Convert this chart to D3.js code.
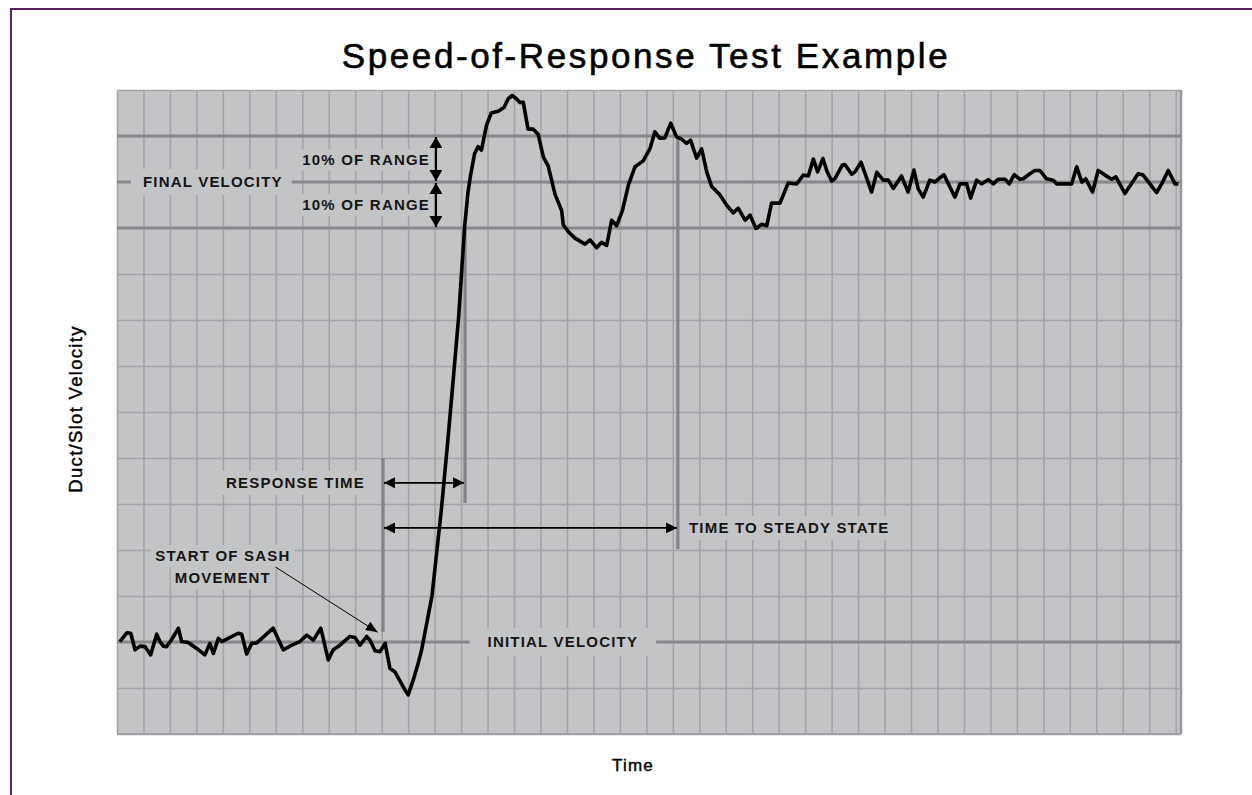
<!DOCTYPE html>
<html>
<head>
<meta charset="utf-8">
<script src="https://cdn.jsdelivr.net/npm/d3@7"></script>
<style>
  html, body { margin: 0; padding: 0; background: #ffffff; }
  svg { display: block; }
</style>
</head>
<body>
<svg id="chart" width="1252" height="795"></svg>
<script>
// ---------------- data ----------------
// time in grid units, velocity in % of the range (initial = 0, final = 100)
const timeValues = [
  0.11,0.37,0.52,0.68,0.87,1.06,1.27,1.50,1.62,1.75,1.88,2.07,2.32,2.44,2.69,3.01,3.32,3.51,3.64,3.83,
  3.96,4.20,4.58,4.71,4.90,5.09,5.28,5.47,5.90,6.28,6.60,6.91,7.17,7.42,7.70,7.98,8.17,8.42,8.80,8.99,
  9.18,9.43,9.56,9.75,9.94,10.13,10.31,10.50,10.88,11.00,11.19,11.38,11.51,11.90,12.25,12.50,12.69,12.91,13.13,13.26,
  13.36,13.51,13.64,13.77,13.96,14.14,14.40,14.62,14.78,14.93,15.09,15.22,15.35,15.53,15.72,15.91,16.11,16.29,16.55,16.80,
  16.86,17.05,17.30,17.68,17.87,18.12,18.31,18.50,18.69,18.88,19.10,19.32,19.57,19.88,20.14,20.32,20.51,20.70,20.92,21.14,
  21.33,21.52,21.67,21.90,22.09,22.28,22.47,22.78,23.03,23.28,23.47,23.73,23.92,24.14,24.36,24.55,24.73,25.05,25.36,25.68,
  25.93,26.12,26.31,26.47,26.67,26.82,27.00,27.12,27.41,27.50,27.76,27.88,28.11,28.51,28.71,28.95,29.14,29.33,29.64,29.89,
  30.11,30.27,30.46,30.71,30.90,31.24,31.66,31.85,32.10,32.25,32.48,32.67,32.92,33.11,33.29,33.55,33.71,33.90,34.11,34.24,
  34.49,34.68,34.87,35.12,35.37,35.50,36.07,36.26,36.45,36.60,36.86,37.07,37.33,37.58,37.74,38.08,38.58,38.77,39.28,39.47,
  39.72,39.97,40.10
];
const velocityValues = [
  0.1,2.0,1.9,-1.7,-0.9,-1.0,-2.8,1.7,0.1,-0.9,-1.0,0.6,3.0,0.1,-0.1,-1.4,-2.8,-0.3,-2.5,0.8,
  0.1,0.8,1.9,1.7,-2.6,-0.3,-0.2,0.8,3.0,-1.7,-0.7,0.1,1.5,0.4,3.0,-3.9,-1.7,-0.7,1.2,1.0,
  -0.7,1.2,0.4,-1.9,-2.1,-0.3,-5.7,-6.5,-10.4,-11.5,-8.3,-4.6,-1.7,10.0,28.5,43.8,56.2,70.8,90.0,97.7,
  101.5,106.2,107.7,106.9,112.3,115.0,115.4,116.2,118.1,118.8,118.1,117.3,117.3,111.5,111.5,110.4,105.4,103.5,97.3,93.8,
  90.7,89.2,87.8,86.5,87.4,85.7,86.9,86.2,91.7,90.5,93.9,99.3,103.3,104.6,107.3,110.9,109.5,109.6,112.8,109.8,
  109.3,108.4,109.1,105.2,107.2,102.2,99.0,97.2,95.0,93.3,94.3,91.7,92.8,89.9,90.8,90.5,95.4,95.4,99.8,99.6,
  101.5,101.3,105.0,102.2,105.1,102.4,100.2,100.7,103.7,103.8,101.7,102.2,104.3,97.8,102.1,100.4,100.4,98.6,101.3,97.8,
  102.6,98.5,96.7,100.4,100.0,101.6,96.7,99.6,99.6,96.5,100.4,99.6,100.5,99.6,100.6,100.6,99.6,101.6,100.6,100.7,
  101.8,102.5,102.5,100.7,100.4,99.6,99.6,103.3,100.0,100.7,97.8,102.5,101.5,100.6,101.1,97.5,101.8,101.5,97.7,99.6,
  102.5,99.6,99.6
];
const gridTimeTicks = d3.range(0, 41, 1);
const gridVelocityTicks = d3.range(-20, 121, 10);
const titleText = "Speed-of-Response Test Example";
const xAxisLabel = "Time";
const yAxisLabel = "Duct/Slot Velocity";
const initialVelocity = 0;
const finalVelocity = 100;
const bandPercent = 10;
const sashStartTime = 10.05;
const responseEndTime = 13.15;
const steadyStateTime = 21.19;

// ---------------- layout ----------------
const svg = d3.select("#chart");
const plotLeft = 117, plotRight = 1181, plotTop = 90, plotBottom = 734;
const x = d3.scaleLinear().domain([0, 40.2]).range([plotLeft, plotRight]);
const y = d3.scaleLinear().domain([-20, 120]).range([plotBottom, plotTop]);

const bg = "#c3c4c6";
const gridColor = "#a3a4a7";
const refColor = "#87888b";
const labelFont = "'Liberation Sans', Arial, sans-serif";

// outer frame
svg.append("rect").attr("x", 11).attr("y", 9).attr("width", 1400).attr("height", 1000)
  .attr("fill", "none").attr("stroke", "#5b2160").attr("stroke-width", 2);

// title
svg.append("text").attr("x", 646).attr("y", 68).attr("text-anchor", "middle")
  .attr("font-family", labelFont).attr("font-size", 35).attr("letter-spacing", 2.6)
  .attr("stroke", "#000").attr("stroke-width", 0.6)
  .attr("fill", "#000").text(titleText);

// plot background
svg.append("rect").attr("x", plotLeft).attr("y", plotTop).attr("width", plotRight - plotLeft).attr("height", plotBottom - plotTop)
  .attr("fill", bg);

// grid via axes
const gx = svg.append("g").attr("transform", `translate(0,${plotBottom})`)
  .call(d3.axisBottom(x).tickValues(gridTimeTicks).tickSize(-(plotBottom - plotTop)).tickFormat(""));
gx.select(".domain").remove();
gx.selectAll(".tick line").attr("stroke", gridColor).attr("stroke-width", 1.6);

const gy = svg.append("g").attr("transform", `translate(${plotLeft},0)`)
  .call(d3.axisLeft(y).tickValues(gridVelocityTicks).tickSize(-(plotRight - plotLeft)).tickFormat(""));
gy.select(".domain").remove();
gy.selectAll(".tick line").attr("stroke", gridColor).attr("stroke-width", 1.6);

// plot edges
svg.append("line").attr("x1", plotRight).attr("x2", plotRight).attr("y1", plotTop).attr("y2", plotBottom)
  .attr("stroke", "#98999c").attr("stroke-width", 2.5);
svg.append("line").attr("x1", plotLeft).attr("x2", plotRight).attr("y1", plotBottom).attr("y2", plotBottom)
  .attr("stroke", "#a0a1a4").attr("stroke-width", 2);

// reference lines
[finalVelocity + bandPercent, finalVelocity, finalVelocity - bandPercent, initialVelocity].forEach(v => {
  svg.append("line").attr("x1", plotLeft).attr("x2", plotRight).attr("y1", y(v)).attr("y2", y(v))
    .attr("stroke", refColor).attr("stroke-width", 3);
});

// vertical annotation lines
const vlines = [
  {t: sashStartTime, v0: 2.2, v1: 40},
  {t: responseEndTime, v0: 30.2, v1: finalVelocity - bandPercent},
  {t: steadyStateTime, v0: 20.2, v1: finalVelocity + bandPercent}
];
vlines.forEach(d => {
  svg.append("line").attr("x1", x(d.t)).attr("x2", x(d.t)).attr("y1", y(d.v0)).attr("y2", y(d.v1))
    .attr("stroke", "#838487").attr("stroke-width", 3.2);
});

// labels with background boxes
function label(txt, px, py, anchor, padL, padR, padT, padB) {
  const g = svg.append("g");
  const r = g.append("rect").attr("fill", bg);
  const t = g.append("text").attr("x", px).attr("y", py + 5.4).attr("text-anchor", anchor)
    .attr("font-family", labelFont).attr("font-weight", "bold").attr("font-size", 15)
    .attr("letter-spacing", 1.2).attr("fill", "#151515").text(txt);
  const b = t.node().getBBox();
  r.attr("x", b.x - padL).attr("y", py - 12 - padT).attr("width", b.width + padL + padR)
    .attr("height", 24 + padT + padB);
  return g;
}
label("FINAL VELOCITY", x(0.98), y(finalVelocity), "start", 12, 9, 1, 1);
label("10% OF RANGE", x(7.0), y(104.8), "start", 3, 3, -1, -1);
label("10% OF RANGE", x(7.0), y(95.0), "start", 3, 3, -1, -1);
label("RESPONSE TIME", x(9.37), y(34.6), "end", 8, 8, 0, 0);
label("TIME TO STEADY STATE", x(21.61), y(24.8), "start", 5, 5, 0, 0);
label("INITIAL VELOCITY", x(14.0), y(initialVelocity), "start", 18, 18, 2, 2);
label("START OF SASH", x(4.0), y(18.7), "middle", 4, 4, -1, -1);
label("MOVEMENT", x(4.0), y(13.9), "middle", 4, 4, -1, -1);

// arrows
const defs = svg.append("defs");
function marker(id, w, h) {
  defs.append("marker").attr("id", id).attr("viewBox", `0 0 ${w} ${h}`)
    .attr("refX", w).attr("refY", h / 2).attr("markerWidth", w).attr("markerHeight", h)
    .attr("markerUnits", "userSpaceOnUse").attr("orient", "auto-start-reverse")
    .append("path").attr("d", `M0,0L${w},${h / 2}L0,${h}Z`).attr("fill", "#000");
}
marker("ah", 11, 11);
marker("ahv", 11, 13);
marker("ahs", 12, 10);

function arrow(x1, y1, x2, y2, id, w, both) {
  const l = svg.append("line").attr("x1", x1).attr("y1", y1).attr("x2", x2).attr("y2", y2)
    .attr("stroke", "#000").attr("stroke-width", w).attr("marker-end", `url(#${id})`);
  if (both) l.attr("marker-start", `url(#${id})`);
}
// 10% of range double arrows
arrow(x(12.05), y(finalVelocity + bandPercent) + 1, x(12.05), y(finalVelocity) - 1, "ahv", 2.2, true);
arrow(x(12.05), y(finalVelocity) + 1, x(12.05), y(finalVelocity - bandPercent) - 1, "ahv", 2.2, true);
// response time
arrow(x(sashStartTime) + 1, y(34.6), x(responseEndTime) - 1, y(34.6), "ah", 1.6, true);
// time to steady state
arrow(x(sashStartTime) + 1, y(24.8), x(steadyStateTime) - 1, y(24.8), "ah", 1.6, true);
// start of sash leader
arrow(x(5.99), y(16.3), x(9.85), y(2.1), "ahs", 1, false);

// response curve
const pts = timeValues.map((t, i) => [t, velocityValues[i]]);
svg.append("path").datum(pts)
  .attr("d", d3.line().x(d => x(d[0])).y(d => y(d[1])))
  .attr("fill", "none").attr("stroke", "#000").attr("stroke-width", 3.6)
  .attr("stroke-linejoin", "round");

// axis titles
svg.append("text").attr("transform", `translate(82,409) rotate(-90)`).attr("text-anchor", "middle")
  .attr("font-family", labelFont).attr("font-size", 18.5).attr("letter-spacing", 1.3)
  .attr("stroke", "#000").attr("stroke-width", 0.4)
  .attr("fill", "#000").text(yAxisLabel);
svg.append("text").attr("x", 633).attr("y", 771).attr("text-anchor", "middle")
  .attr("font-family", labelFont).attr("font-size", 17).attr("letter-spacing", 1.2)
  .attr("stroke", "#000").attr("stroke-width", 0.4)
  .attr("fill", "#000").text(xAxisLabel);
</script>
</body>
</html>
